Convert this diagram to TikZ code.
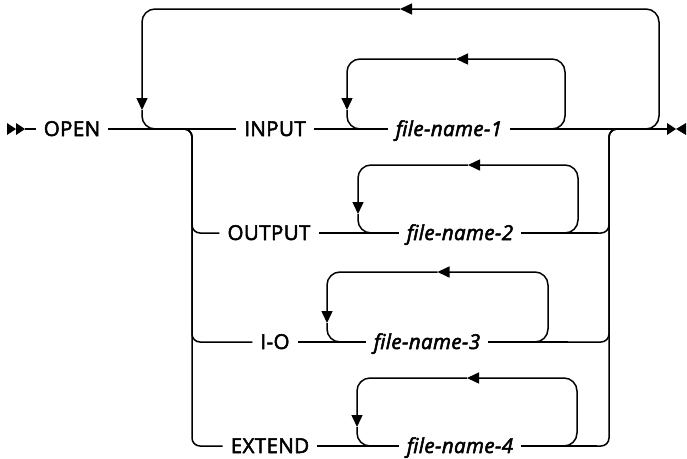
\documentclass[tikz,border=0pt]{standalone}
\usepackage{fontspec}
\setmainfont{Open Sans}[FakeBold=2.5, LetterSpace=2, AutoFakeBold=2.5]
\usetikzlibrary{arrows.meta}
\tikzset{
  rr diagram/.style={x=1pt, y=-1pt, font=\fontsize{20.5}{24}\selectfont\bfseries,
    line join=round},
  rr line/.style={draw=black, line width=1.5pt, rounded corners=13pt},
  rr branch/.style={rr line, rounded corners=8pt},
  rr back/.style={rr line, -{Triangle[length=12pt,width=11pt]}},
  rr mark/.style={fill=black},
  rr keyword/.style={inner xsep=8pt, inner ysep=0pt, text height=14pt,
    text depth=0pt, anchor=center},
  rr variable/.style={rr keyword, font=\fontsize{20.5}{24}\selectfont\bfseries\itshape}
}
\begin{document}
\begin{tikzpicture}[rr diagram]
\useasboundingbox (0,0) rectangle (687,458);
% start and end marks
\coordinate (start) at (25,129);
\coordinate (end) at (667,129);
\fill[rr mark] (7,123) -- (16,129) -- (7,135) -- cycle;
\fill[rr mark] (16,123) -- (25,129) -- (16,135) -- cycle;
\fill[rr mark] (667,123) -- (676,129) -- (667,135) -- cycle;
\fill[rr mark] (686,123) -- (676,129) -- (686,135) -- cycle;
\node[rr keyword] (open) at (72,129) {OPEN};
\draw[rr line] (start) -- (open.west);
% branch rails
\coordinate (bl) at (192,129);
\coordinate (br) at (609,129);
% rows
\foreach \kw/\n/\y/\kx/\fx/\lx/\rx/\ty in {
    INPUT/1/129/275/449/347/565/59,
    OUTPUT/2/233/269/460/358/578/165,
    I-O/3/342/275/427/327/548/272,
    EXTEND/4/446/270/460/357/577/378} {
  \node[rr keyword] (kw\n) at (\kx,\y) {\kw};
  \node[rr variable] (fn\n) at (\fx,\y) {file-name-\n};
  \draw[rr line] (kw\n.east) -- (fn\n.west);
  \draw[rr line] (fn\n.east) -- (\rx+20,\y);
  % repeat loop
  \draw[rr back] (\rx-20,\y) -- (\rx,\y) -- (\rx,\ty) -- ({(\lx+\rx)/2},\ty);
  \draw[rr back] ({(\lx+\rx)/2},\ty) -- (\lx,\ty) -- (\lx,\y-19);
  \draw[rr line] (\lx,\y-19) -- (\lx,\y) -- (\lx+20,\y);
}
\draw[rr line] (open.east) -- (kw1.west);
\draw[rr line] (fn1.east) -- (end);
\foreach \n/\y in {2/233,3/342,4/446} {
  \draw[rr branch] (175,129) -- (bl) -- (192,\y) -- (kw\n.west);
  \draw[rr branch] (fn\n.east) -- (609,\y) -- (br) -- (625,129);
}
% outer repeat loop
\draw[rr back] (640,129) -- (659,129) -- (659,9) -- (400,9);
\draw[rr back] (400,9) -- (142,9) -- (142,110);
\draw[rr line] (142,110) -- (142,129) -- (162,129);
\end{tikzpicture}
\end{document}
